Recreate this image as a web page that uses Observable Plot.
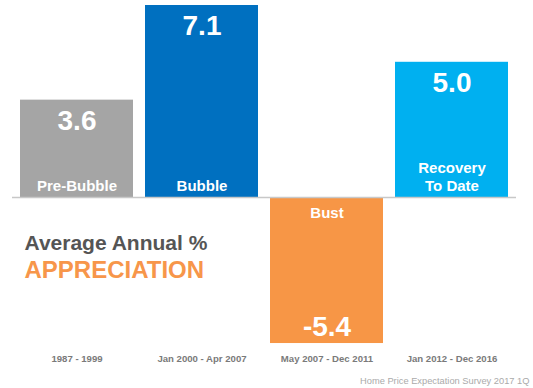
<!DOCTYPE html>
<html><head><meta charset="utf-8">
<script src="https://cdn.jsdelivr.net/npm/d3@7"></script>
<script src="https://cdn.jsdelivr.net/npm/@observablehq/plot@0.6"></script>
<style>body{margin:0;background:#fff;font-family:"Liberation Sans",Arial,sans-serif}</style>
</head><body><div id="chart"></div>
<script>
const periods = ["1987 - 1999", "Jan 2000 - Apr 2007", "May 2007 - Dec 2011", "Jan 2012 - Dec 2016"];
const names = ["Pre-Bubble", "Bubble", "Bust", "Recovery\nTo Date"];
const values = [3.6, 7.1, -5.4, 5.0];
const colors = ["#a5a5a5", "#0070c0", "#f79646", "#00b0f0"];
const titleLine1 = "Average Annual %";
const titleLine2 = "APPRECIATION";
const source = "Home Price Expectation Survey 2017 1Q";

const data = periods.map((p, i) => ({period: p, name: names[i], value: values[i], color: colors[i]}));
const pos = data.filter(d => d.value >= 0);
const neg = data.filter(d => d.value < 0);

const chart = Plot.plot({
  width: 533, height: 388,
  marginLeft: 12, marginRight: 17, marginTop: 0, marginBottom: 38,
  style: {fontFamily: "'Liberation Sans', Arial, sans-serif", background: "#fff"},
  x: {domain: periods, range: [18, 510], paddingInner: 0.095, paddingOuter: 0, label: null},
  y: {domain: [0, 7.1], range: [197, 5], axis: null},
  marks: [
    Plot.barY(data, {x: "period", y: "value", fill: "color"}),
    Plot.ruleY([0], {stroke: "#c8c8c8", strokeWidth: 1.5}),
    Plot.axisX({anchor: "bottom", tickSize: 0, tickPadding: 4.5, fontSize: 9.6, fontWeight: "bold", color: "#7a7a7a", label: null}),
    Plot.text(pos, {x: "period", y: "value", text: d => d.value.toFixed(1), dy: 21, fill: "#fff", fontSize: 28, fontWeight: "bold", lineAnchor: "middle"}),
    Plot.text(neg, {x: "period", y: "value", text: d => d.value.toFixed(1), dy: -16, fill: "#fff", fontSize: 28, fontWeight: "bold", lineAnchor: "middle"}),
    Plot.text(pos, {x: "period", y: 0, text: "name", dy: -7, fill: "#fff", fontSize: 15, fontWeight: "bold", lineAnchor: "bottom", lineHeight: 1.2}),
    Plot.text(neg, {x: "period", y: 0, text: "name", dy: 16, fill: "#fff", fontSize: 15, fontWeight: "bold", lineAnchor: "middle"}),
    Plot.text([titleLine1], {frameAnchor: "top-left", dx: 12, dy: 243, textAnchor: "start", lineAnchor: "middle", fontSize: 21, fontWeight: "bold", fill: "#555"}),
    Plot.text([titleLine2], {frameAnchor: "top-left", dx: 12, dy: 270, textAnchor: "start", lineAnchor: "middle", fontSize: 24, fontWeight: "bold", fill: "#f7964a"}),
    Plot.text([source], {frameAnchor: "bottom-right", dx: 13, dy: 31, textAnchor: "end", lineAnchor: "middle", fontSize: 9.3, fill: "#aaa"})
  ]
});
document.getElementById("chart").appendChild(chart);
</script></body></html>
